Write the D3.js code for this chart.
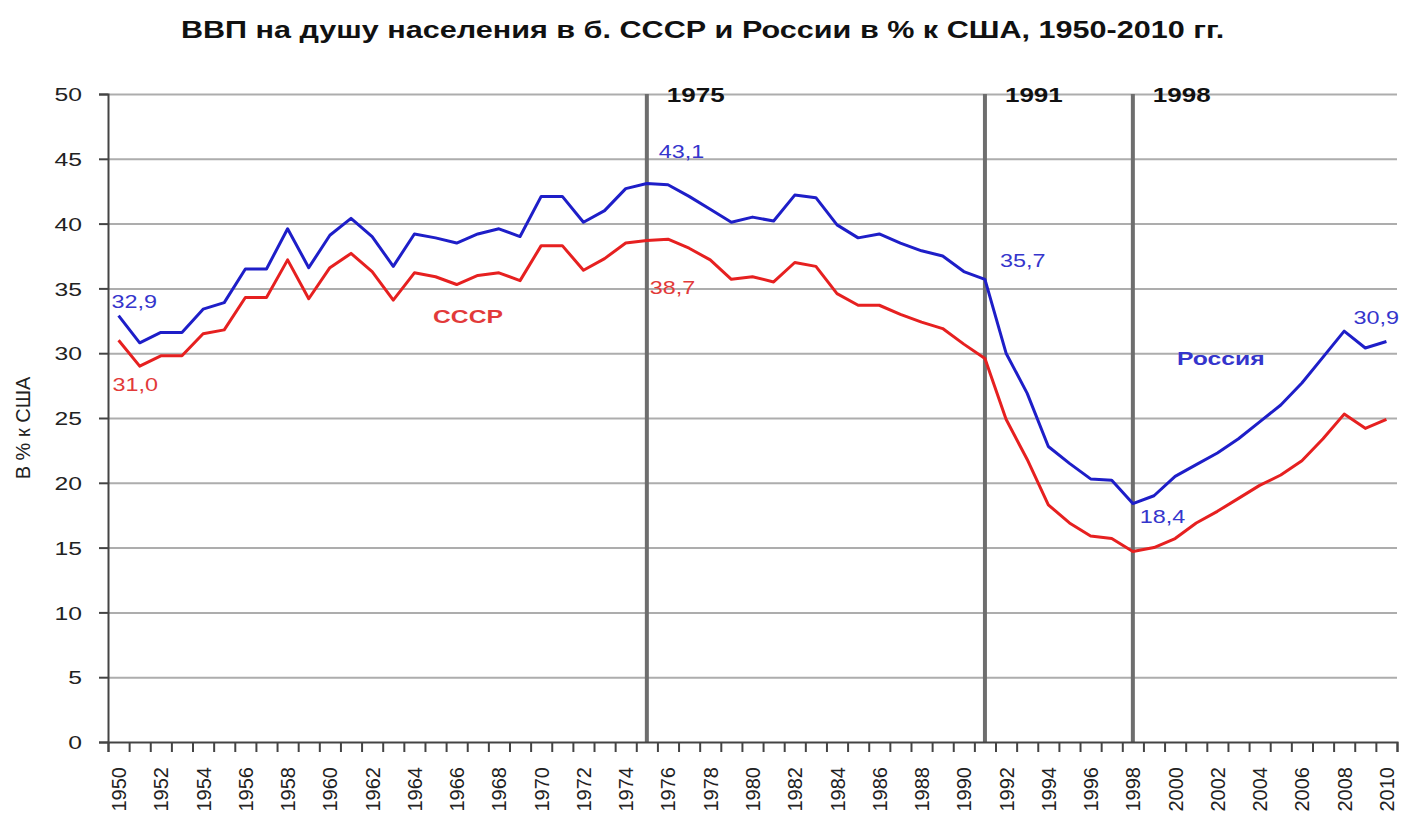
<!DOCTYPE html>
<html>
<head>
<meta charset="utf-8">
<script src="https://cdn.jsdelivr.net/npm/d3@7"></script>
<style>
  body { margin: 0; background: #fff; }
  text { font-family: "Liberation Sans", Arial, sans-serif; }
</style>
</head>
<body>
<svg id="svg" width="1405" height="826"></svg>
<script>
// data
const years = d3.range(1950, 2011);
const russia = [
  32.9, 30.8, 31.6, 31.6, 33.4, 33.9, 36.5, 36.5, 39.6, 36.6,
  39.1, 40.4, 39.0, 36.7, 39.2, 38.9, 38.5, 39.2, 39.6, 39.0,
  42.1, 42.1, 40.1, 41.0, 42.7, 43.1, 43.0, 42.1, 41.1, 40.1,
  40.5, 40.2, 42.2, 42.0, 39.9, 38.9, 39.2, 38.5, 37.9, 37.5,
  36.3, 35.7, 30.0, 26.9, 22.8, 21.5, 20.3, 20.2, 18.4, 19.0,
  20.5, 21.4, 22.3, 23.4, 24.7, 26.0, 27.7, 29.7, 31.7, 30.4, 30.9
];
const ussr = [
  31.0, 29.0, 29.8, 29.8, 31.5, 31.8, 34.3, 34.3, 37.2, 34.2,
  36.6, 37.7, 36.3, 34.1, 36.2, 35.9, 35.3, 36.0, 36.2, 35.6,
  38.3, 38.3, 36.4, 37.3, 38.5, 38.7, 38.8, 38.1, 37.2, 35.7,
  35.9, 35.5, 37.0, 36.7, 34.6, 33.7, 33.7, 33.0, 32.4, 31.9,
  30.7, 29.6, 24.9, 21.8, 18.3, 16.9, 15.9, 15.7, 14.7, 15.0,
  15.7, 16.9, 17.8, 18.8, 19.8, 20.6, 21.7, 23.4, 25.3, 24.2, 24.9
];
const yTicks = d3.range(0, 51, 5);
const xLabels = d3.range(1950, 2011, 2);
const markerYears = [1975, 1991, 1998];
// value labels: [year, value, series]
const valueLabels = [
  [1950, 32.9, 'r'], [1950, 31.0, 'u'], [1975, 43.1, 'r'], [1975, 38.7, 'u'],
  [1991, 35.7, 'r'], [1998, 18.4, 'r'], [2010, 30.9, 'r']
];

const title = 'ВВП на душу населения в б. СССР и России в % к США, 1950-2010 гг.';
const blue = '#1e1ec8', red = '#e62020';
const blueText = '#3535cc', redText = '#e23a3a';
const sx = 1.3; // the picture's text is stretched sideways

const margin = {top: 94, right: 8, bottom: 84, left: 108};
const W = 1405, H = 826;
const svg = d3.select('#svg');

const x = d3.scaleLinear().domain([1949.5, 2010.5]).range([margin.left, W - margin.right]);
const y = d3.scaleLinear().domain([0, 50]).range([H - margin.bottom, margin.top]);

function stretchedText(g, tx, ty, str, k = sx) {
  return g.append('text')
    .attr('transform', `translate(${tx},${ty}) scale(${k},1)`)
    .text(str);
}

// title
stretchedText(svg, W / 2, 38, title, 1.33)
  .attr('text-anchor', 'middle')
  .style('font-size', '23px')
  .style('font-weight', 'bold')
  .attr('fill', '#111');

// grid
svg.append('g')
  .attr('transform', `translate(${margin.left},0)`)
  .call(d3.axisLeft(y).tickValues(yTicks.filter(d => d > 0)).tickSize(-(W - margin.left - margin.right)).tickFormat(''))
  .call(g => g.select('.domain').remove())
  .call(g => g.selectAll('line').attr('stroke', '#adadad').attr('stroke-width', 2));

// y axis
const yAxis = svg.append('g')
  .attr('transform', `translate(${margin.left},0)`)
  .call(d3.axisLeft(y).tickValues(yTicks).tickSize(9).tickFormat(d3.format('d')));
yAxis.select('.domain').attr('stroke', '#444').attr('stroke-width', 2);
yAxis.selectAll('line').attr('stroke', '#444').attr('stroke-width', 2);
yAxis.selectAll('text')
  .attr('x', 0).attr('dy', '0.35em')
  .attr('transform', `translate(-26,0) scale(${sx},1)`)
  .attr('fill', '#222')
  .style('font-size', '19px');

// y label
svg.append('text')
  .attr('transform', 'translate(30,428) rotate(-90)')
  .attr('text-anchor', 'middle')
  .attr('fill', '#222')
  .style('font-size', '20px')
  .text('В % к США');

// marker lines
markerYears.forEach(yr => {
  svg.append('line')
    .attr('x1', x(yr)).attr('x2', x(yr))
    .attr('y1', y(50)).attr('y2', y(0))
    .attr('stroke', '#6e6e6e').attr('stroke-width', 4);
  stretchedText(svg, x(yr) + 20, 102, String(yr))
    .style('font-size', '20px').style('font-weight', 'bold').attr('fill', '#111');
});

// x axis: ticks at year boundaries, labels at year centres
const xTickAxis = svg.append('g')
  .attr('transform', `translate(0,${y(0)})`)
  .call(d3.axisBottom(x).tickValues(d3.range(1949.5, 2011, 1)).tickSize(10).tickFormat(''));
xTickAxis.select('.domain').attr('stroke', '#444').attr('stroke-width', 2);
xTickAxis.selectAll('line').attr('stroke', '#444').attr('stroke-width', 2);

const xLabAxis = svg.append('g')
  .attr('transform', `translate(0,${y(0)})`)
  .call(d3.axisBottom(x).tickValues(xLabels).tickSize(0).tickFormat(d3.format('d')));
xLabAxis.select('.domain').remove();
xLabAxis.selectAll('text')
  .attr('x', 0).attr('y', 0).attr('dy', '0.35em')
  .attr('text-anchor', 'end')
  .attr('transform', 'translate(0,25) rotate(-90)')
  .attr('fill', '#222')
  .style('font-size', '20px');

// lines
const line = d3.line().x((d, i) => x(years[i])).y(d => y(d));
svg.append('path').datum(ussr).attr('d', line)
  .attr('fill', 'none').attr('stroke', red).attr('stroke-width', 3).attr('stroke-linejoin', 'round');
svg.append('path').datum(russia).attr('d', line)
  .attr('fill', 'none').attr('stroke', blue).attr('stroke-width', 3).attr('stroke-linejoin', 'round');

// value labels
const labelPos = {
  '1950r': [-7, -8], '1950u': [-6, 51], '1975r': [12, -25], '1975u': [3, 54],
  '1991r': [15, -12], '1998r': [7, 19], '2010r': [-33, -18]
};
valueLabels.forEach(([yr, v, s]) => {
  const off = labelPos[yr + s];
  stretchedText(svg, x(yr) + off[0], y(v) + off[1], String(v.toFixed(1)).replace('.', ','))
    .style('font-size', '18px')
    .attr('fill', s === 'r' ? blueText : redText);
});

// series names
stretchedText(svg, 433, 323, 'СССР').style('font-size', '19px').style('font-weight', 'bold').attr('fill', redText);
stretchedText(svg, 1177, 365, 'Россия').style('font-size', '19px').style('font-weight', 'bold').attr('fill', blueText);
</script>
</body>
</html>
